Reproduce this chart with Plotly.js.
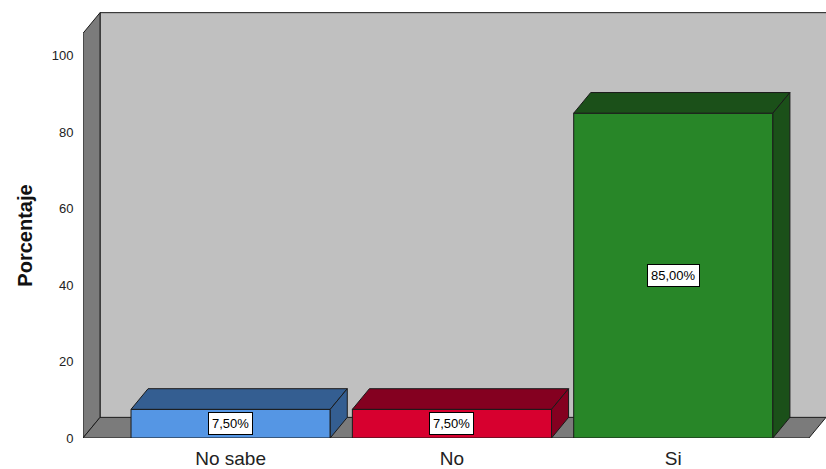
<!DOCTYPE html>
<html><head><meta charset="utf-8">
<script src="https://cdn.plot.ly/plotly-3.0.1.min.js"></script>
<style>html,body{margin:0;padding:0;background:#fff}</style>
</head><body><div id="chart" style="width:826px;height:469px"></div>
<script>
// ---- data ----
const categories = ["No sabe", "No", "Si"];
const percentages = [7.5, 7.5, 85.0];
const valueLabels = ["7,50%", "7,50%", "85,00%"];
const yTickValues = [0, 20, 40, 60, 80, 100];
const yTickLabels = ["0", "20", "40", "60", "80", "100"];
const yTitle = "Porcentaje";

// ---- style ----
const frontColors = ["#5596e4", "#d7002f", "#288628"];
const darkColors = ["#345e91", "#840020", "#1b5019"];
const EDGE = "#1a1a1a";
const FONT = 'Liberation Sans, Arial, sans-serif';
const X_MIN = -0.667, X_FRONT_MAX = 2.613, DX = 0.077, DY = 5.4, Y_WALL_TOP = 105.9, BAR_W = 0.9;
const XB = X_MIN + DX, XM = X_FRONT_MAX + DX, Y_BACK_TOP = Y_WALL_TOP + DY;

const xs = categories.map((c, i) => i);

function poly(pts) { return 'M' + pts.map(p => p[0] + ',' + p[1]).join(' L') + ' Z'; }

const shapes = [
  {type: 'path', layer: 'below', xref: 'x', yref: 'y', path: poly([[XB, DY], [XM + 0.05, DY], [XM + 0.05, Y_BACK_TOP], [XB, Y_BACK_TOP]]),
   fillcolor: '#c0c0c0', line: {width: 0}},
  {type: 'path', layer: 'below', xref: 'x', yref: 'y', path: 'M' + XB + ',' + DY + ' L' + XB + ',' + Y_BACK_TOP + ' L' + (XM + 0.05) + ',' + Y_BACK_TOP,
   line: {color: EDGE, width: 1}},
  {type: 'path', layer: 'below', xref: 'x', yref: 'y', path: poly([[X_MIN, 0], [X_MIN, Y_WALL_TOP], [XB, Y_BACK_TOP], [XB, DY]]),
   fillcolor: '#7b7b7b', line: {color: EDGE, width: 1}},
  {type: 'path', layer: 'below', xref: 'x', yref: 'y', path: poly([[X_MIN, 0], [X_FRONT_MAX, 0], [XM, DY], [XB, DY]]),
   fillcolor: '#7b7b7b', line: {color: EDGE, width: 1}}
];

const traces = [];
traces.push({
  type: 'bar', x: xs, y: percentages, width: BAR_W,
  marker: {color: frontColors, line: {color: EDGE, width: 1}},
  hoverinfo: 'skip', showlegend: false
});
percentages.forEach((v, i) => {
  const l = i - BAR_W / 2, r = i + BAR_W / 2;
  traces.push({
    type: 'scatter', mode: 'lines', fill: 'toself', fillcolor: darkColors[i],
    x: [l, r, r + DX, l + DX, l], y: [v, v, v + DY, v + DY, v],
    line: {color: EDGE, width: 1}, hoverinfo: 'skip', showlegend: false
  });
  traces.push({
    type: 'scatter', mode: 'lines', fill: 'toself', fillcolor: darkColors[i],
    x: [r, r, r + DX, r + DX, r], y: [0, v, v + DY, DY, 0],
    line: {color: EDGE, width: 1}, hoverinfo: 'skip', showlegend: false
  });
});

const annotations = percentages.map((v, i) => ({
  x: i, y: v / 2, xref: 'x', yref: 'y', text: valueLabels[i], showarrow: false,
  bgcolor: '#ffffff', bordercolor: '#000000', borderwidth: 1, borderpad: 3,
  font: {family: FONT, size: 13, color: '#000'}
}));
annotations.push({
  xref: 'paper', yref: 'y', x: -83 / 743 + 25 / 743, y: Y_WALL_TOP / 2, xanchor: 'center', yanchor: 'middle',
  text: '<b>' + yTitle + '</b>', textangle: -90, showarrow: false,
  font: {family: FONT, size: 20, color: '#111'}
});

const layout = {
  width: 826, height: 469,
  margin: {l: 83, r: 0, t: 10, b: 31, pad: 0},
  paper_bgcolor: '#ffffff', plot_bgcolor: '#ffffff',
  showlegend: false,
  xaxis: {
    range: [X_MIN, XM], tickvals: xs, ticktext: categories,
    showgrid: false, zeroline: false, showline: false,
    ticks: 'outside', ticklen: 3, tickcolor: 'rgba(0,0,0,0)',
    tickfont: {family: FONT, size: 19, color: '#222'},
    fixedrange: true
  },
  yaxis: {
    range: [0, 112], tickvals: yTickValues, ticktext: yTickLabels,
    showgrid: false, zeroline: false, showline: false,
    ticks: 'outside', ticklen: 6, tickcolor: 'rgba(0,0,0,0)',
    tickfont: {family: FONT, size: 13, color: '#222'},
    fixedrange: true
  },
  shapes: shapes,
  annotations: annotations,
  hovermode: false
};

Plotly.newPlot('chart', traces, layout, {staticPlot: true, displayModeBar: false});
</script>
</body></html>
